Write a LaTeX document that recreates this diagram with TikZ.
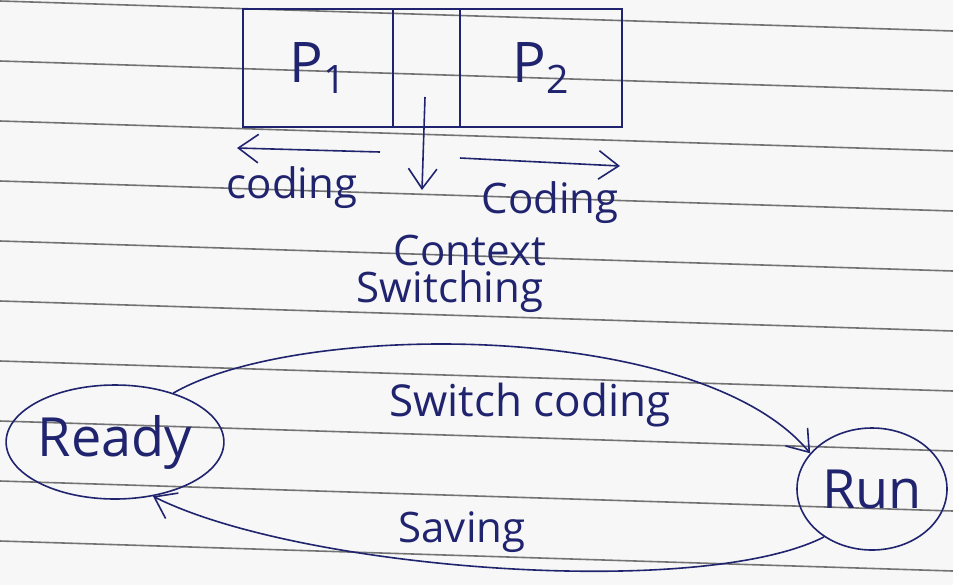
\documentclass[tikz,border=0pt]{standalone}
\usepackage{fontspec}
\setmainfont{Open Sans}
\usepackage{xcolor}
\usetikzlibrary{arrows.meta, positioning, shapes.geometric}
\definecolor{ink}{RGB}{32,36,110}
\tikzset{
  procbox/.style={rectangle, draw=ink, thick, minimum height=59pt, inner sep=0pt, text=ink, font=\fontsize{28}{30}\selectfont},
  statenode/.style={ellipse, draw=ink, thick, inner sep=0pt, text=ink, font=\fontsize{27}{29}\selectfont},
  inkarrow/.style={-{Straight Barb[length=3.5mm, width=5mm]}, thick, draw=ink},
  note/.style={text=ink, font=\fontsize{21}{23}\selectfont},
  ruled/.style={draw=black!55, line width=0.8pt},
}
\begin{document}
\begin{tikzpicture}[x=0.5pt, y=-0.5pt]
  \fill[black!3] (0,0) rectangle (953,585);
  \useasboundingbox (0,0) rectangle (953,585);
  % paper lines
  \foreach \y in {1,61,...,541}
    \draw[ruled] (0,\y) -- (953,\y+30);

  % process blocks
  \node[procbox, minimum width=75pt] (p1) at (318,68) {P\textsubscript{1}};
  \node[procbox, minimum width=33.5pt] (gap) at (426.5,68) {};
  \node[procbox, minimum width=81pt] (p2) at (541,68) {P\textsubscript{2}};

  \coordinate (lfrom) at (380,152);
  \coordinate (lto) at (237,148);
  \coordinate (rfrom) at (460,158);
  \coordinate (rto) at (620,166);
  \coordinate (dfrom) at (425,97);
  \coordinate (dto) at (422,190);
  \draw[inkarrow] (lfrom) -- (lto);
  \draw[inkarrow] (rfrom) -- (rto);
  \draw[inkarrow] (dfrom) -- (dto);

  \node[note] (codl) at (292,188) {coding};
  \node[note] (codr) at (550,203) {Coding};
  \node[note] (ctx) at (470,250) {Context};
  \node[note] (sw) at (450,292) {Switching};

  % states
  \node[statenode, minimum width=105pt, minimum height=57pt] (ready) at (115,442) {Ready};
  \node[statenode, minimum width=75pt, minimum height=61pt] (run) at (872,489) {Run};

  \draw[inkarrow] (ready.40) .. controls (300,320) and (700,320) .. (run.150);
  \draw[inkarrow] (run.225) .. controls (700,600) and (300,570) .. (ready.305);
  \node[note, font=\fontsize{22}{24}\selectfont] (swc) at (530,405) {Switch coding};
  \node[note] (sav) at (462,532) {Saving};
\end{tikzpicture}
\end{document}
